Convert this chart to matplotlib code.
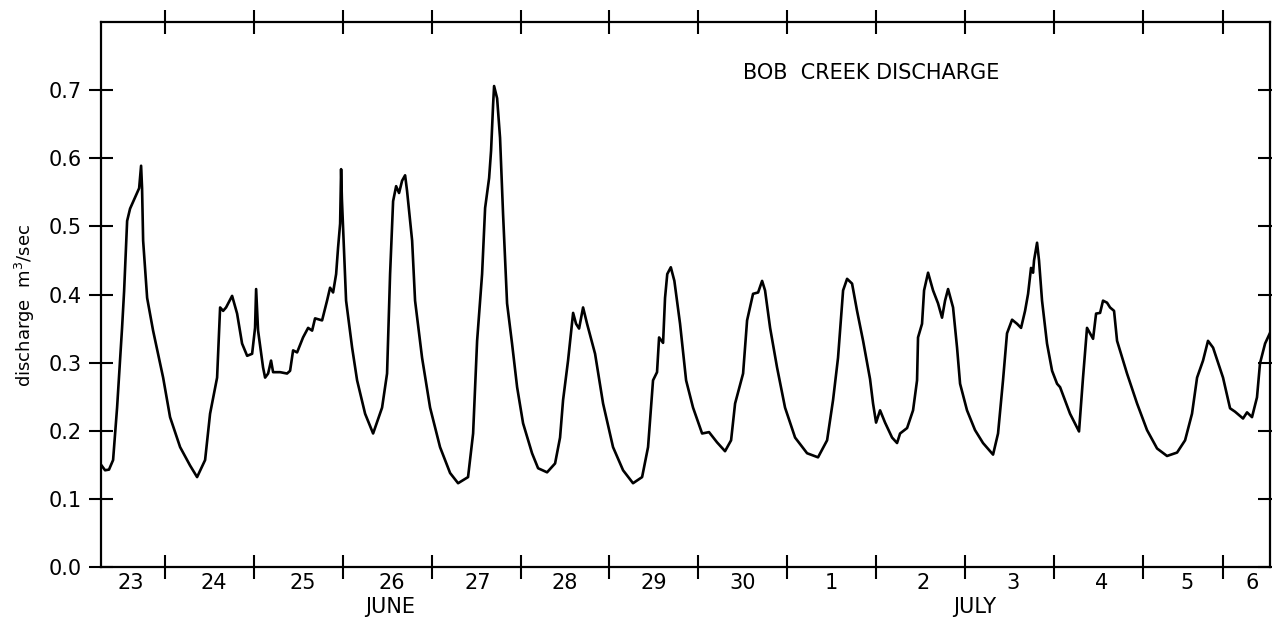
import numpy as np
import matplotlib.pyplot as plt

# time in days counted from 00:00 June 23, discharge in m3/sec
days = [0.281, 0.326, 0.37, 0.416, 0.461, 0.517, 0.540, 0.574, 0.607, 0.709, 0.731, 0.742, 0.754,
        0.799, 0.866, 0.979, 1.057, 1.170, 1.282, 1.361, 1.451, 1.507, 1.586, 1.620, 1.654, 1.687,
        1.755, 1.811, 1.867, 1.924, 1.980, 2.013, 2.025, 2.047, 2.103, 2.126, 2.160, 2.193, 2.216,
        2.295, 2.373, 2.407, 2.441, 2.486, 2.553, 2.610, 2.655, 2.688, 2.767, 2.823, 2.857, 2.891,
        2.925, 2.947, 2.970, 2.981, 2.99, 3.003, 3.037, 3.105, 3.161, 3.251, 3.341, 3.442, 3.498,
        3.532, 3.566, 3.600, 3.633, 3.667, 3.701, 3.723, 3.780, 3.813, 3.892, 3.982, 4.094, 4.207,
        4.297, 4.409, 4.466, 4.511, 4.567, 4.601, 4.646, 4.668, 4.691, 4.702, 4.736, 4.769, 4.803,
        4.848, 4.904, 4.961, 5.028, 5.129, 5.197, 5.298, 5.388, 5.444, 5.478, 5.534, 5.591, 5.624,
        5.658, 5.703, 5.748, 5.838, 5.928, 6.040, 6.153, 6.265, 6.367, 6.434, 6.490, 6.535, 6.558,
        6.603, 6.625, 6.65, 6.69, 6.73, 6.794, 6.862, 6.940, 7.042, 7.120, 7.210, 7.300, 7.368,
        7.413, 7.503, 7.548, 7.615, 7.672, 7.717, 7.750, 7.807, 7.885, 7.975, 8.088, 8.223, 8.346,
        8.448, 8.515, 8.571, 8.628, 8.673, 8.729, 8.785, 8.853, 8.931, 8.965, 8.999, 9.044, 9.100,
        9.179, 9.235, 9.269, 9.348, 9.415, 9.460, 9.471, 9.516, 9.539, 9.584, 9.640, 9.696, 9.741,
        9.775, 9.809, 9.865, 9.910, 9.944, 10.022, 10.112, 10.202, 10.315, 10.371, 10.427, 10.472,
        10.529, 10.585, 10.630, 10.675, 10.709, 10.742, 10.765, 10.776, 10.810, 10.832, 10.866,
        10.922, 10.979, 11.035, 11.069, 11.181, 11.282, 11.327, 11.372, 11.406, 11.440, 11.474,
        11.519, 11.552, 11.597, 11.631, 11.676, 11.710, 11.822, 11.935, 12.047, 12.160, 12.272,
        12.385, 12.475, 12.553, 12.610, 12.677, 12.733, 12.790, 12.902, 12.981, 13.037, 13.127,
        13.172, 13.228, 13.284, 13.318, 13.375, 13.453]
discharge = [0.150, 0.142, 0.143, 0.157, 0.234, 0.351, 0.405, 0.508, 0.526, 0.556, 0.589, 0.556, 0.479,
             0.395, 0.347, 0.278, 0.220, 0.176, 0.149, 0.132, 0.157, 0.225, 0.278, 0.381, 0.376, 0.381,
             0.398, 0.372, 0.328, 0.310, 0.313, 0.351, 0.408, 0.347, 0.293, 0.278, 0.284, 0.303, 0.286,
             0.286, 0.284, 0.288, 0.318, 0.315, 0.337, 0.351, 0.347, 0.365, 0.362, 0.391, 0.410, 0.403,
             0.430, 0.469, 0.504, 0.584, 0.540, 0.498, 0.391, 0.322, 0.274, 0.225, 0.196, 0.234, 0.284,
             0.430, 0.537, 0.559, 0.549, 0.567, 0.575, 0.552, 0.479, 0.391, 0.307, 0.234, 0.176, 0.138,
             0.123, 0.132, 0.196, 0.332, 0.430, 0.527, 0.571, 0.611, 0.679, 0.706, 0.688, 0.630, 0.518,
             0.387, 0.328, 0.264, 0.211, 0.167, 0.145, 0.139, 0.152, 0.190, 0.245, 0.303, 0.373, 0.357,
             0.350, 0.381, 0.357, 0.313, 0.240, 0.176, 0.142, 0.123, 0.132, 0.176, 0.274, 0.286, 0.337,
             0.329, 0.395, 0.430, 0.440, 0.420, 0.357, 0.274, 0.234, 0.196, 0.198, 0.183, 0.170, 0.186,
             0.240, 0.284, 0.362, 0.401, 0.403, 0.420, 0.406, 0.351, 0.293, 0.234, 0.190, 0.167, 0.161,
             0.186, 0.245, 0.307, 0.406, 0.423, 0.416, 0.376, 0.332, 0.276, 0.240, 0.212, 0.230, 0.212,
             0.190, 0.182, 0.196, 0.204, 0.230, 0.274, 0.337, 0.357, 0.406, 0.432, 0.406, 0.387, 0.366,
             0.391, 0.408, 0.381, 0.322, 0.269, 0.230, 0.201, 0.182, 0.165, 0.196, 0.274, 0.343,
             0.363, 0.357, 0.351, 0.376, 0.401, 0.439, 0.432, 0.450, 0.476, 0.450, 0.391,
             0.328, 0.288, 0.269, 0.264, 0.225, 0.199, 0.278, 0.351, 0.343, 0.335, 0.372,
             0.373, 0.391, 0.388, 0.381, 0.376, 0.332, 0.284, 0.240, 0.201, 0.174, 0.163,
             0.168, 0.186, 0.225, 0.278, 0.303, 0.332, 0.322, 0.278, 0.233, 0.228, 0.218,
             0.227, 0.220, 0.249, 0.299, 0.328, 0.350]

# day boundaries and day-number labels
day_ticks = [1, 2, 3, 4, 5, 6, 7, 8, 9, 10, 11, 12, 12.9]
label_pos = [0.62, 1.55, 2.55, 3.55, 4.52, 5.5, 6.5, 7.5, 8.5, 9.53, 10.54, 11.54, 12.5, 13.23]
day_labels = ["23", "24", "25", "26", "27", "28", "29", "30", "1", "2", "3", "4", "5", "6"]
y_ticks = [0.0, 0.1, 0.2, 0.3, 0.4, 0.5, 0.6, 0.7]

fig = plt.figure(figsize=(12.72, 6.18), dpi=100)
ax = fig.add_axes([0.0794, 0.0825, 0.919, 0.8819])

ax.plot(days, discharge, color="black", lw=1.9)

ax.set_xlim(0.28, 13.43)
ax.set_ylim(0, 0.8)

ax.set_yticks(y_ticks, labels=[f"{v:.1f}" for v in y_ticks])
ax.set_xticks(day_ticks, labels=[""] * len(day_ticks))
ax.set_xticks(label_pos, labels=day_labels, minor=True)

ax.tick_params(which="major", direction="inout", length=17, width=1.5,
               top=True, right=True, labelsize=15, pad=5)
ax.tick_params(axis="x", which="minor", length=0, pad=4, labelsize=15)
for s in ax.spines.values():
    s.set_linewidth(1.6)

ax.text(3.53, -0.073, "JUNE", transform=ax.get_xaxis_transform(),
        ha="center", va="center", fontsize=15)
ax.text(10.11, -0.073, "JULY", transform=ax.get_xaxis_transform(),
        ha="center", va="center", fontsize=15)
ax.text(7.5, 0.725, "BOB  CREEK DISCHARGE", ha="left", va="center", fontsize=15)

fig.text(0.0197, 0.506, "discharge  m$^3$/sec", rotation=90,
         ha="center", va="center", fontsize=13)

fig.savefig("out.png", dpi=100)
